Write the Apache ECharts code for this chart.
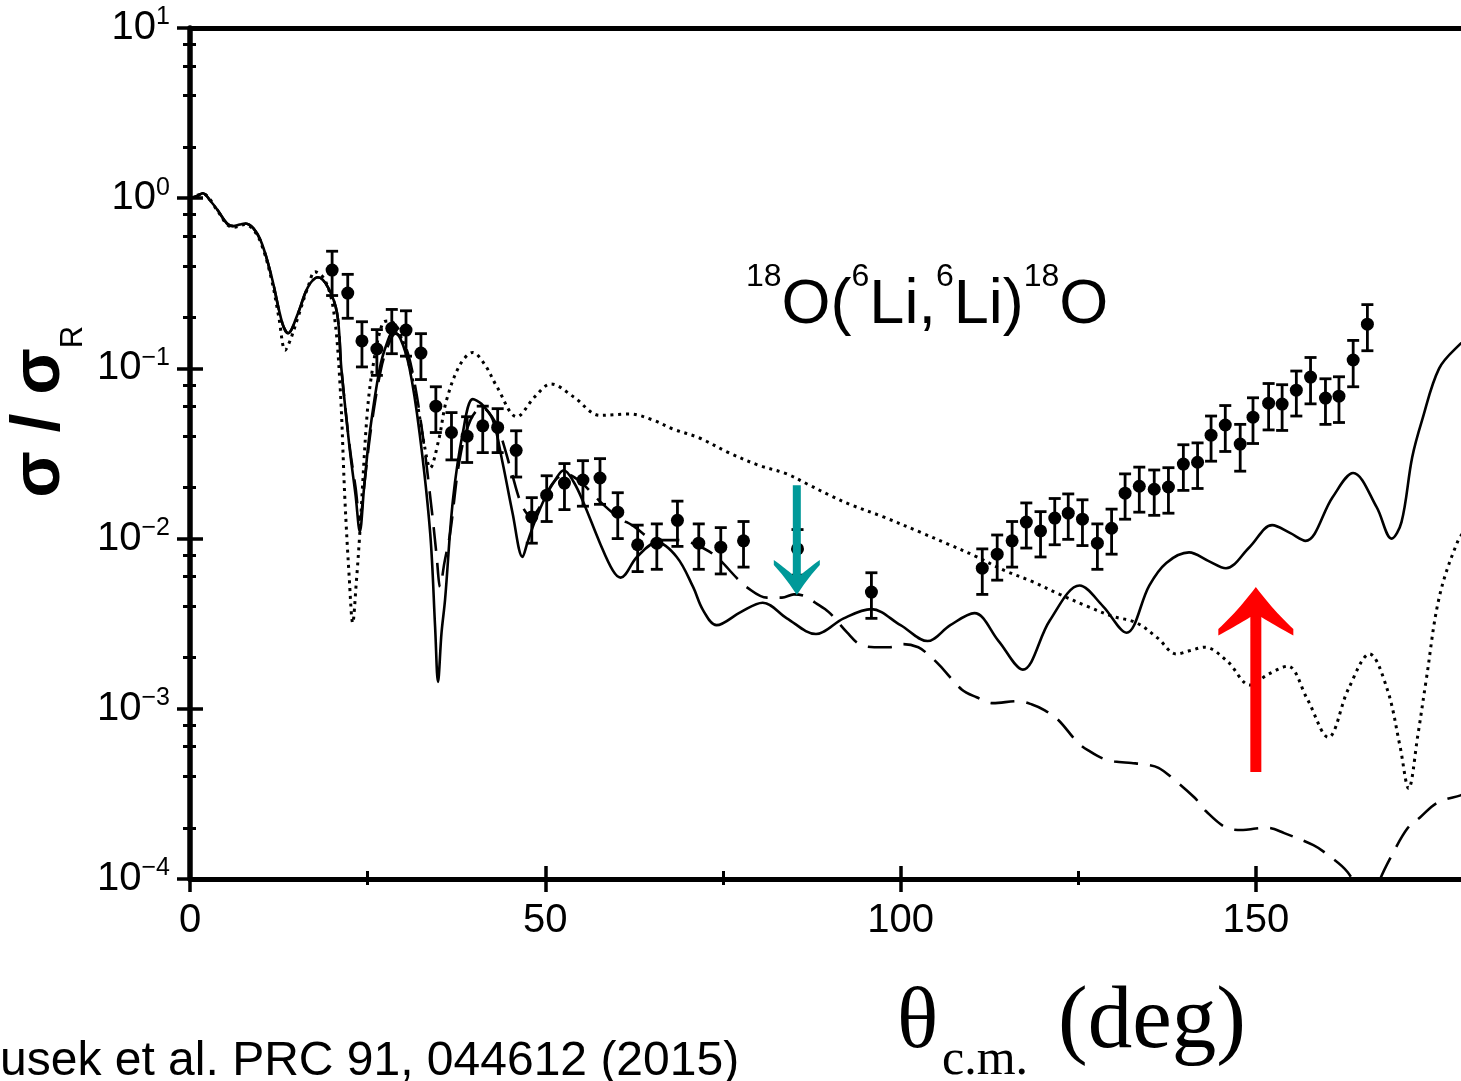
<!DOCTYPE html>
<html>
<head>
<meta charset="utf-8">
<script src="https://cdn.jsdelivr.net/npm/echarts@6/dist/echarts.min.js"></script>
<style>html,body{margin:0;padding:0;background:#fff}#c{width:1461px;height:1081px}</style>
</head>
<body>
<div id="c"></div>
<script>
// ---- experimental data (theta_cm in deg, sigma/sigma_R, error) ----
const expAngle = [20.0,22.2,24.2,26.3,28.4,30.4,32.5,34.6,36.8,39.0,41.2,43.3,45.9,48.1,50.2,52.7,55.3,57.7,60.2,63.0,65.7,68.6,71.6,74.7,77.9,85.5,95.9,111.5,113.6,115.7,117.7,119.7,121.7,123.6,125.6,127.7,129.7,131.6,133.6,135.7,137.7,139.8,141.8,143.7,145.7,147.8,149.6,151.8,153.7,155.7,157.7,159.8,161.7,163.7,165.7];
const expValue = [0.378,0.277,0.145,0.130,0.172,0.168,0.123,0.060,0.042,0.040,0.046,0.045,0.033,0.0134,0.018,0.0212,0.0221,0.0227,0.0143,0.0092,0.0094,0.0128,0.0094,0.0089,0.0097,0.0087,0.00485,0.0067,0.0081,0.0097,0.0125,0.0111,0.0132,0.0141,0.0130,0.0094,0.0115,0.0185,0.0203,0.0195,0.0201,0.0274,0.0281,0.0405,0.0465,0.0359,0.0517,0.0625,0.0617,0.0745,0.0889,0.0669,0.0687,0.112,0.182];
const expError = [0.11,0.08,0.043,0.039,0.05,0.05,0.037,0.018,0.013,0.012,0.014,0.013,0.010,0.004,0.0054,0.0064,0.0066,0.0068,0.0043,0.0028,0.0028,0.0038,0.0028,0.0027,0.0029,0.0026,0.00145,0.002,0.0024,0.0029,0.0037,0.0033,0.004,0.0042,0.0039,0.0028,0.0034,0.0055,0.006,0.0058,0.006,0.0082,0.0084,0.012,0.014,0.011,0.0155,0.019,0.0185,0.022,0.027,0.02,0.0206,0.034,0.055];

// ---- calculated curves [theta, sigma/sigma_R] ----
const solidCurve = [[0,1.0],[1,1.03],[1.8,1.07],[3,0.95],[3.9,0.85],[5.2,0.71],[6.1,0.685],[7.0,0.70],[7.7,0.71],[8.9,0.667],[10.1,0.544],[11.5,0.343],[13.0,0.184],[13.8,0.161],[15.2,0.211],[16.6,0.30],[18.0,0.343],[19.4,0.30],[20.7,0.211],[21.3,0.10],[22.5,0.033],[23.3,0.018],[23.9,0.011],[24.5,0.02],[25.3,0.042],[26.7,0.10],[27.7,0.14],[28.6,0.165],[29.6,0.15],[30.9,0.10],[32.3,0.042],[33.8,0.0108],[34.5,0.003],[34.9,0.00144],[35.4,0.0028],[35.9,0.0044],[37.0,0.0168],[38.4,0.042],[39.8,0.066],[41.0,0.062],[42.6,0.05],[44.0,0.0278],[45.4,0.0141],[46.8,0.0078],[47.5,0.0095],[48.5,0.0125],[50.0,0.0175],[51.5,0.0225],[52.6,0.0252],[54.0,0.0215],[55.4,0.0162],[57.7,0.0094],[59.5,0.0065],[60.6,0.0059],[62.9,0.0078],[65.7,0.0095],[68.5,0.0078],[70.8,0.0052],[72.2,0.0038],[74.1,0.0031],[77.5,0.0037],[80.6,0.0042],[84.0,0.0034],[88.1,0.00275],[92.0,0.0034],[95.9,0.00385],[100.0,0.0031],[103.8,0.0025],[107.0,0.0031],[110.4,0.00365],[113.8,0.0025],[117.2,0.0017],[121.0,0.0033],[125.2,0.0053],[128.5,0.0040],[131.8,0.0028],[135.0,0.0053],[137.4,0.0072],[140.6,0.0083],[143.3,0.0074],[145.8,0.0067],[149.1,0.0089],[152.3,0.012],[154.8,0.0108],[157.0,0.0097],[160.8,0.0175],[163.7,0.0243],[167.0,0.0153],[169.1,0.010],[170.5,0.0125],[172.0,0.030],[173.4,0.0497],[175.8,0.10],[178.6,0.137],[180,0.15]];
const dottedCurve = [[0,1.0],[1.8,1.06],[3.9,0.84],[5.2,0.70],[6.1,0.675],[7.7,0.70],[8.9,0.655],[10.1,0.53],[11.5,0.33],[12.5,0.2],[13.4,0.128],[14.2,0.15],[15.2,0.2],[16.6,0.30],[17.6,0.37],[19.0,0.33],[20.2,0.22],[21.1,0.082],[21.8,0.017],[22.4,0.006],[22.9,0.0032],[23.4,0.0055],[23.9,0.0108],[24.9,0.052],[25.7,0.10],[27.1,0.184],[28.1,0.19],[29.3,0.17],[30.5,0.12],[31.9,0.065],[33.0,0.035],[33.8,0.026],[35.0,0.038],[36.1,0.065],[38.0,0.105],[39.8,0.124],[41.5,0.105],[43.2,0.078],[46.0,0.052],[48.5,0.068],[50.8,0.081],[54.0,0.068],[57.7,0.053],[61.9,0.054],[65.0,0.05],[68.0,0.044],[71.7,0.039],[75.8,0.032],[80.0,0.027],[84.0,0.024],[86.8,0.021],[90,0.018],[93,0.0158],[97.6,0.0134],[103,0.0108],[106.9,0.0092],[110.5,0.0079],[114.6,0.0065],[118.5,0.0056],[122.4,0.0047],[126.3,0.0040],[129.8,0.0035],[133.2,0.0032],[136.2,0.0026],[138.8,0.0021],[140.8,0.0022],[142.8,0.0023],[146,0.0019],[149.2,0.00138],[151.8,0.0016],[154.5,0.00178],[157.2,0.00115],[160.2,0.00068],[163,0.0013],[166,0.0021],[168.5,0.0013],[170.3,0.0006],[171.5,0.00034],[172.8,0.0007],[174,0.0015],[175.8,0.0045],[178.4,0.0096],[180,0.012]];
const dashedCurve = [[0,1.0],[1,1.03],[1.8,1.07],[3,0.95],[3.9,0.85],[5.2,0.71],[6.1,0.685],[7.0,0.70],[7.7,0.71],[8.9,0.667],[10.1,0.544],[11.5,0.343],[13.0,0.184],[13.8,0.161],[15.2,0.211],[16.6,0.30],[18.0,0.343],[19.4,0.30],[20.7,0.211],[21.3,0.10],[22.5,0.034],[23.3,0.02],[23.9,0.0129],[24.6,0.022],[25.5,0.045],[26.9,0.10],[28.0,0.14],[28.9,0.16],[30.0,0.145],[31.2,0.10],[32.6,0.045],[34.0,0.015],[34.7,0.008],[35.2,0.0052],[35.8,0.0072],[36.6,0.0107],[38.0,0.030],[39.5,0.050],[41.1,0.059],[42.5,0.052],[43.6,0.042],[45.2,0.025],[46.7,0.0157],[48.0,0.0135],[49.5,0.016],[51.0,0.021],[52.8,0.024],[55.0,0.0215],[57.2,0.0173],[60.2,0.0134],[62.2,0.012],[65.7,0.0098],[68.5,0.0098],[70.7,0.0094],[73.8,0.008],[76.9,0.0059],[78.3,0.0052],[81.2,0.0045],[83.3,0.0045],[85.0,0.0047],[86.5,0.0046],[88.0,0.0042],[89.9,0.0037],[92.5,0.0028],[94.2,0.0024],[96.3,0.0023],[98.5,0.0023],[100.4,0.0024],[102.5,0.0023],[103.8,0.0021],[105.5,0.0018],[108.6,0.0013],[110.7,0.00117],[113,0.00108],[116.5,0.00111],[118.5,0.00106],[120.3,0.00098],[122.2,0.00086],[125.0,0.00063],[126.7,0.00056],[128.5,0.00051],[130.1,0.00049],[132.5,0.00048],[134.5,0.00047],[136.3,0.00045],[138.3,0.00039],[141.4,0.0003],[143,0.00025],[145.9,0.0002],[148.2,0.000194],[150,0.000198],[151.6,0.0002],[154,0.000186],[158.1,0.000158],[159.8,0.000142],[162.9,0.00011],[164.6,0.00008],[166,0.00006],[167.3,0.000095],[169.3,0.000142],[171.4,0.0002],[173.1,0.00023],[175.5,0.00028],[178.8,0.00031],[180,0.00032]];

// ---- axes ----
const xTickValues = [0, 50, 100, 150];
const xMinorTicks = [25, 75, 125];
const yTickValues = [1e-4, 1e-3, 1e-2, 1e-1, 1, 10];
const yMinorTicks = [2e-4,4e-4,6e-4,8e-4,2e-3,4e-3,6e-3,8e-3,2e-2,4e-2,6e-2,8e-2,0.2,0.4,0.6,0.8,2,4,6,8];

// ---- annotation arrows (data coordinates) ----
const tealArrow = {x: 85.4, tail: 0.0206, tip: 0.00466};
const redArrow = {x: 150, tail: 0.000425, tip: 0.0052};

const SANS = "'Liberation Sans', Arial, Helvetica, sans-serif";
const SERIF = "'Liberation Serif', 'Times New Roman', serif";

const chart = echarts.init(document.getElementById('c'), null, {renderer: 'canvas'});

const supText = e => (e < 0 ? '\u2212' + (-e) : '' + e);

function xAx(extra) {
  return Object.assign({
    type: 'value', min: 0, max: 180, position: 'bottom',
    axisLine: {show: false, onZero: false},
    axisTick: {show: false},
    axisLabel: {show: false},
    splitLine: {show: false}
  }, extra);
}
function yAx(extra) {
  return Object.assign({
    type: 'log', logBase: 10, min: 1e-4, max: 10, position: 'left',
    axisLine: {show: false, onZero: false},
    axisTick: {show: false},
    axisLabel: {show: false},
    splitLine: {show: false}, minorTick: {show: false}
  }, extra);
}

const option = {
  animation: false,
  backgroundColor: '#ffffff',
  grid: {left: 190, top: 28, right: -8, bottom: 202, outerBoundsMode: 'none', containLabel: false},
  xAxis: [
    xAx({
      axisLine: {show: true, onZero: false, lineStyle: {color: '#000', width: 5}},
      axisTick: {show: true, inside: false, length: 13, customValues: xTickValues, lineStyle: {color: '#000', width: 3.5}},
      axisLabel: {show: true, customValues: xTickValues, margin: 22, fontSize: 40, lineHeight: 40, color: '#000', fontFamily: SANS}
    }),
    xAx({axisTick: {show: true, inside: true, length: 13, customValues: xTickValues, lineStyle: {color: '#000', width: 3.5}}}),
    xAx({axisTick: {show: true, inside: false, length: 6, customValues: xMinorTicks, lineStyle: {color: '#000', width: 3}}}),
    xAx({axisTick: {show: true, inside: true, length: 8, customValues: xMinorTicks, lineStyle: {color: '#000', width: 3}}}),
    xAx({position: 'top', axisLine: {show: true, onZero: false, lineStyle: {color: '#000', width: 5}}})
  ],
  yAxis: [
    yAx({
      axisLine: {show: true, onZero: false, lineStyle: {color: '#000', width: 5.5}},
      axisTick: {show: true, inside: false, length: 13, customValues: yTickValues, lineStyle: {color: '#000', width: 3.5}},
      axisLabel: {
        show: true, customValues: yTickValues, margin: 20, color: '#000',
        formatter: v => '{b|10}{s|' + supText(Math.round(Math.log10(v))) + '}',
        rich: {
          b: {fontSize: 40, lineHeight: 46, fontFamily: SANS, color: '#000'},
          s: {fontSize: 25, lineHeight: 25, fontFamily: SANS, color: '#000', verticalAlign: 'top'}
        }
      }
    }),
    yAx({axisTick: {show: true, inside: true, length: 13, customValues: yTickValues, lineStyle: {color: '#000', width: 3.5}}}),
    yAx({axisTick: {show: true, inside: false, length: 7, customValues: yMinorTicks, lineStyle: {color: '#000', width: 3}}}),
    yAx({axisTick: {show: true, inside: true, length: 6, customValues: yMinorTicks, lineStyle: {color: '#000', width: 3}}})
  ],
  series: [
    {type: 'line', name: 'dotted', data: dottedCurve, showSymbol: false, symbol: 'none', smooth: 0.35, clip: true, z: 2,
     lineStyle: {color: '#000', width: 3, type: [3, 4.7], cap: 'butt', opacity: 1}},
    {type: 'line', name: 'dashed', data: dashedCurve, showSymbol: false, symbol: 'none', smooth: 0.35, clip: true, z: 2,
     lineStyle: {color: '#000', width: 2.6, type: [24, 12], cap: 'butt', opacity: 1}},
    {type: 'line', name: 'solid', data: solidCurve, showSymbol: false, symbol: 'none', smooth: 0.35, clip: true, z: 3,
     lineStyle: {color: '#000', width: 2.6, opacity: 1}},
    {type: 'custom', name: 'errors', z: 4, clip: false,
     data: expAngle.map((a, i) => [a, expValue[i] - expError[i], expValue[i] + expError[i]]),
     encode: {x: 0, y: [1, 2]},
     renderItem: (params, api) => {
       const x = api.value(0);
       const lo = api.coord([x, api.value(1)]);
       const hi = api.coord([x, api.value(2)]);
       const w = 6;
       const st = {stroke: '#000', lineWidth: 2.8, opacity: 1};
       return {type: 'group', children: [
         {type: 'line', shape: {x1: lo[0], y1: lo[1], x2: hi[0], y2: hi[1]}, style: st},
         {type: 'line', shape: {x1: hi[0] - w, y1: hi[1], x2: hi[0] + w, y2: hi[1]}, style: st},
         {type: 'line', shape: {x1: lo[0] - w, y1: lo[1], x2: lo[0] + w, y2: lo[1]}, style: st}
       ]};
     }},
    {type: 'scatter', name: 'data', z: 5, data: expAngle.map((a, i) => [a, expValue[i]]),
     symbol: 'circle', symbolSize: 13, itemStyle: {color: '#000', opacity: 1, borderWidth: 0}}
  ]
};
chart.setOption(option);

// ---- arrows built from data coordinates ----
function arrowPolygon(tipPx, tailPx, p) {
  const dx = tailPx[0] - tipPx[0], dy = tailPx[1] - tipPx[1];
  const L = Math.hypot(dx, dy);
  const ux = dx / L, uy = dy / L, nx = -uy, ny = ux;
  const P = (a, s) => [tipPx[0] + ux * a + nx * s, tipPx[1] + uy * a + ny * s];
  const quad = (p0, c, p1, n, out) => {
    for (let k = 0; k <= n; k++) {
      const t = k / n, m = 1 - t;
      out.push([m * m * p0[0] + 2 * m * t * c[0] + t * t * p1[0], m * m * p0[1] + 2 * m * t * c[1] + t * t * p1[1]]);
    }
  };
  const right = [];
  quad([0, 0], [0.571 * p.hl, 0.48 * p.hw], [p.hl, p.hw], 12, right);
  const back = p.hl + p.bt;
  quad([back, p.hw], [p.join + 0.38 * (back - p.join), 0.436 * p.hw], [p.join, p.sh], 10, right);
  right.push([L, p.sh]);
  const left = right.slice(1).reverse().map(q => [q[0], -q[1]]);
  return right.concat(left).map(q => P(q[0], q[1]));
}
const toPx = v => chart.convertToPixel({xAxisIndex: 0, yAxisIndex: 0}, v);
const tealPts = arrowPolygon(toPx([tealArrow.x, tealArrow.tip]), toPx([tealArrow.x, tealArrow.tail]),
  {hl: 30, hw: 23, bt: 5, join: 20, sh: 4});
const redPts = arrowPolygon(toPx([redArrow.x, redArrow.tip]), toPx([redArrow.x, redArrow.tail]),
  {hl: 42, hw: 37.5, bt: 6.5, join: 30, sh: 5.5});

chart.setOption({
  graphic: [
    {type: 'polygon', z: 100, shape: {points: tealPts}, style: {fill: '#009999'}},
    {type: 'polygon', z: 100, shape: {points: redPts}, style: {fill: '#ff0000'}},
    {type: 'text', z: 50, x: 746, y: 261,
     style: {text: '{s|18}{b|O(}{s|6}{b|Li,}{s|6}{b|Li)}{s|18}{b|O}', align: 'left', verticalAlign: 'top',
       rich: {
         b: {fontSize: 63, lineHeight: 90, fontFamily: SANS, fill: '#000', color: '#000'},
         s: {fontSize: 32, lineHeight: 32, fontFamily: SANS, fill: '#000', color: '#000', verticalAlign: 'top'}
       }}},
    {type: 'text', z: 50, x: 40, y: 423, rotation: Math.PI / 2,
     style: {text: '\u03c3 / \u03c3', fontSize: 68, fontWeight: 'bold', fontFamily: SANS, fill: '#000', align: 'center', verticalAlign: 'middle'}},
    {type: 'text', z: 50, x: 73, y: 337, rotation: Math.PI / 2,
     style: {text: 'R', fontSize: 31, fontFamily: SANS, fill: '#000', align: 'center', verticalAlign: 'middle'}},
    {type: 'text', z: 50, x: 897, y: 1024,
     style: {text: '\u03b8', fontSize: 86, fontFamily: SERIF, fill: '#000', align: 'left', verticalAlign: 'middle'}},
    {type: 'text', z: 50, x: 942, y: 1061,
     style: {text: 'c.m.', fontSize: 50, fontFamily: SERIF, fill: '#000', align: 'left', verticalAlign: 'middle'}},
    {type: 'text', z: 50, x: 1058, y: 1024,
     style: {text: '(deg)', fontSize: 89, fontFamily: SERIF, fill: '#000', align: 'left', verticalAlign: 'middle'}},
    {type: 'text', z: 50, x: 0, y: 1062,
     style: {text: 'usek et al. PRC 91, 044612 (2015)', fontSize: 48, fontFamily: SANS, fill: '#000', align: 'left', verticalAlign: 'middle'}}
  ]
});
</script>
</body>
</html>
